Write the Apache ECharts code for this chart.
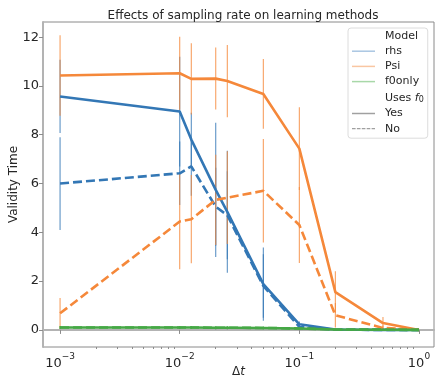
<!DOCTYPE html>
<html>
<head>
<meta charset="utf-8">
<script src="https://cdn.jsdelivr.net/npm/echarts@6/dist/echarts.min.js"></script>
<style>
  html, body { margin: 0; padding: 0; background: #fff; }
  #chart { width: 436px; height: 377px; }
</style>
</head>
<body>
<div id="chart"></div>
<script>
// sampling step values on the x axis
let dt = [0.001, 0.01, 0.0125, 0.02, 0.025, 0.05, 0.1, 0.2, 0.5, 1.0]

// validity time, Uses f0 = Yes
let rhsYes = [9.57, 8.95, 7.8, 5.74, 4.84, 1.88, 0.23, 0.02, 0, 0]
let psiYes = [10.43, 10.52, 10.29, 10.3, 10.2, 9.67, 7.43, 1.55, 0.28, 0]
let f0Yes = [0.1, 0.1, 0.1, 0.09, 0.09, 0.08, 0.06, 0.02, 0.01, 0]
// validity time, Uses f0 = No
let rhsNo = [6.0, 6.42, 6.7, 5.05, 4.7, 1.8, 0.12, 0.01, 0, 0]
let psiNo = [0.68, 4.44, 4.54, 5.33, 5.42, 5.7, 4.3, 0.6, 0.08, 0]
let f0No = [0.1, 0.1, 0.1, 0.09, 0.09, 0.08, 0.06, 0.02, 0.01, 0]

// half length of the error bars
let rhsYesErr = [1.5, 2.25, 1.1, 2.75, 2.5, 1.5, 0.12, 0.02, 0, 0]
let psiYesErr = [1.65, 1.5, 1.46, 1.27, 1.48, 1.43, 1.7, 0.85, 0.25, 0]
let f0YesErr = [0.06, 0.06, 0.06, 0.06, 0.06, 0.05, 0.04, 0.02, 0.01, 0]
let rhsNoErr = [1.9, 1.3, 1.2, 1.6, 1.8, 1.3, 0.1, 0.01, 0, 0]
let psiNoErr = [0.63, 1.95, 1.81, 1.85, 1.9, 2.12, 1.56, 0.5, 0.1, 0]
let f0NoErr = [0.06, 0.06, 0.06, 0.06, 0.06, 0.05, 0.04, 0.02, 0.01, 0]

let yTicks = [0, 2, 4, 6, 8, 10, 12]
let xTicks = [0.001, 0.01, 0.1, 1]
let xMinorTicks = [
  0.002, 0.003, 0.004, 0.005, 0.006, 0.007, 0.008, 0.009,
  0.02, 0.03, 0.04, 0.05, 0.06, 0.07, 0.08, 0.09,
  0.2, 0.3, 0.4, 0.5, 0.6, 0.7, 0.8, 0.9
]

let colors = { rhs: '#3377b5', Psi: '#f5883a', f0only: '#45a845' }
let textColor = '#262626'
let dashed = [9, 4]

function pairs (vals) {
  return dt.map((x, i) => [x, vals[i]])
}

function bars (vals, errs) {
  return dt.map((x, i) => [x, vals[i] - errs[i], vals[i] + errs[i]])
}

function lineSeries (name, vals, color, type) {
  return {
    name: name,
    type: 'line',
    data: pairs(vals),
    symbol: 'none',
    z: 3,
    lineStyle: { color: color, width: 2.6, type: type },
    itemStyle: { color: color }
  }
}

function errSeries (name, vals, errs, color) {
  return {
    name: name,
    type: 'custom',
    data: bars(vals, errs),
    encode: { x: 0, y: [1, 2] },
    z: 2,
    silent: true,
    renderItem: function (params, api) {
      let lo = api.coord([api.value(0), api.value(1)])
      let hi = api.coord([api.value(0), api.value(2)])
      return {
        type: 'line',
        shape: { x1: lo[0], y1: lo[1], x2: hi[0], y2: hi[1] },
        style: { stroke: color, lineWidth: 1.1, opacity: 0.8 }
      }
    }
  }
}

// legend-only entries (no data)
function keySeries (name, color, type, hidden) {
  return {
    name: name,
    type: 'line',
    data: [],
    symbol: 'none',
    lineStyle: { color: color, type: type, opacity: hidden ? 0 : 1 },
    itemStyle: { color: color }
  }
}

let solidIcon = 'path://M0,0h23v1.5h-23z'
let dashIcon = 'path://M0,0h3.6v1.2h-3.6z M4.9,0h3.6v1.2h-3.6z M9.8,0h3.6v1.2h-3.6z M14.7,0h3.6v1.2h-3.6z M19.6,0h3.4v1.2h-3.4z'

let myChart = echarts.init(document.getElementById('chart'))
myChart.setOption({
  backgroundColor: '#fff',
  animation: false,
  title: {
    text: 'Effects of sampling rate on learning methods',
    left: 238,
    textAlign: 'center',
    top: 5,
    textStyle: { fontFamily: 'DejaVu Sans', fontSize: 12, fontWeight: 'normal', color: textColor }
  },
  grid: {
    left: 43,
    right: 2,
    top: 22,
    bottom: 30,
    outerBoundsMode: 'none',
    containLabel: false,
    show: true,
    borderColor: '#8a8a8a',
    borderWidth: 1
  },
  legend: {
    orient: 'vertical',
    left: 348,
    top: 28,
    itemWidth: 23,
    itemHeight: 14,
    itemGap: 4.2,
    padding: [1, 4, 4, 4],
    backgroundColor: 'rgba(255,255,255,0.85)',
    borderColor: '#dcdcdc',
    borderWidth: 1,
    borderRadius: 3,
    selectedMode: false,
    textStyle: {
      fontFamily: 'DejaVu Sans',
      fontSize: 11,
      color: textColor,
      padding: [0, 0, 0, 5],
      rich: {
        i: { fontFamily: 'DejaVu Sans', fontStyle: 'italic', fontSize: 11, color: textColor },
        sub: { fontFamily: 'DejaVu Sans', fontSize: 8, color: textColor, verticalAlign: 'bottom', lineHeight: 8 }
      }
    },
    formatter: function (name) {
      return name === 'Uses f0' ? 'Uses {i|f}{sub|0}' : name
    },
    data: [
      { name: 'Model', icon: 'none' },
      { name: 'rhs', icon: solidIcon, itemStyle: { color: '#a9c6e2' } },
      { name: 'Psi', icon: solidIcon, itemStyle: { color: '#f9c6a2' } },
      { name: 'f0only', icon: solidIcon, itemStyle: { color: '#a8d8a8' } },
      { name: 'Uses f0', icon: 'none' },
      { name: 'Yes', icon: solidIcon, itemStyle: { color: '#a0a0a0' } },
      { name: 'No', icon: dashIcon, itemStyle: { color: '#a0a0a0' } }
    ]
  },
  xAxis: [{
    type: 'log',
    logBase: 10,
    min: 7.2e-4,
    max: 1.335,
    name: '{n|Δ}{i|t}',
    nameLocation: 'middle',
    nameGap: 19,
    nameMoveOverlap: false,
    nameTextStyle: {
      rich: {
        n: { fontFamily: 'DejaVu Sans', fontSize: 12, color: textColor },
        i: { fontFamily: 'DejaVu Sans', fontSize: 12, fontStyle: 'italic', color: textColor }
      }
    },
    axisLine: { lineStyle: { color: '#b3b3b3', width: 2 } },
    axisTick: { customValues: xTicks, length: 4, lineStyle: { color: '#8c8c8c' } },
    axisLabel: {
      customValues: xTicks,
      margin: 5,
      formatter: function (v) {
        let e = Math.round(Math.log10(v))
        return '{b|10}{s|' + (e < 0 ? '\u2212' + (-e) : e) + '}'
      },
      rich: {
        b: { fontFamily: 'DejaVu Sans', fontSize: 13, color: textColor, lineHeight: 18, verticalAlign: 'bottom' },
        s: { fontFamily: 'DejaVu Sans', fontSize: 9, color: textColor, lineHeight: 10, verticalAlign: 'top' }
      }
    },
    splitLine: { show: false }
  }, {
    type: 'log',
    logBase: 10,
    min: 7.2e-4,
    max: 1.335,
    position: 'bottom',
    offset: 0,
    axisLine: { show: false },
    axisTick: { customValues: xMinorTicks, length: 2, lineStyle: { color: '#8c8c8c' } },
    axisLabel: { show: false },
    splitLine: { show: false }
  }],
  yAxis: {
    type: 'value',
    min: -0.7,
    max: 12.62,
    name: 'Validity Time',
    nameLocation: 'middle',
    nameGap: 23,
    nameMoveOverlap: false,
    nameTextStyle: { fontFamily: 'DejaVu Sans', fontSize: 12, color: textColor },
    axisLine: { show: true, lineStyle: { color: '#b3b3b3', width: 2 } },
    axisTick: { show: true, customValues: yTicks, length: 4, lineStyle: { color: '#8c8c8c' } },
    axisLabel: {
      customValues: yTicks,
      margin: 4,
      fontFamily: 'DejaVu Sans',
      fontSize: 13,
      color: textColor
    },
    splitLine: { show: false }
  },
  series: [
    errSeries('rhs err', rhsYes, rhsYesErr, colors.rhs),
    errSeries('rhs no err', rhsNo, rhsNoErr, colors.rhs),
    errSeries('Psi err', psiYes, psiYesErr, colors.Psi),
    errSeries('Psi no err', psiNo, psiNoErr, colors.Psi),
    errSeries('f0only err', f0Yes, f0YesErr, colors.f0only),
    errSeries('f0only no err', f0No, f0NoErr, colors.f0only),
    lineSeries('rhs', rhsYes, colors.rhs, 'solid'),
    lineSeries('rhs no f0', rhsNo, colors.rhs, dashed),
    lineSeries('Psi', psiYes, colors.Psi, 'solid'),
    lineSeries('Psi no f0', psiNo, colors.Psi, dashed),
    lineSeries('f0only no f0', f0No, colors.f0only, dashed),
    lineSeries('f0only', f0Yes, colors.f0only, 'solid'),
    keySeries('Model', '#fff', 'solid', true),
    keySeries('Uses f0', '#fff', 'solid', true),
    keySeries('Yes', '#a0a0a0', 'solid', false),
    keySeries('No', '#a0a0a0', dashed, false)
  ]
})
</script>
</body>
</html>
